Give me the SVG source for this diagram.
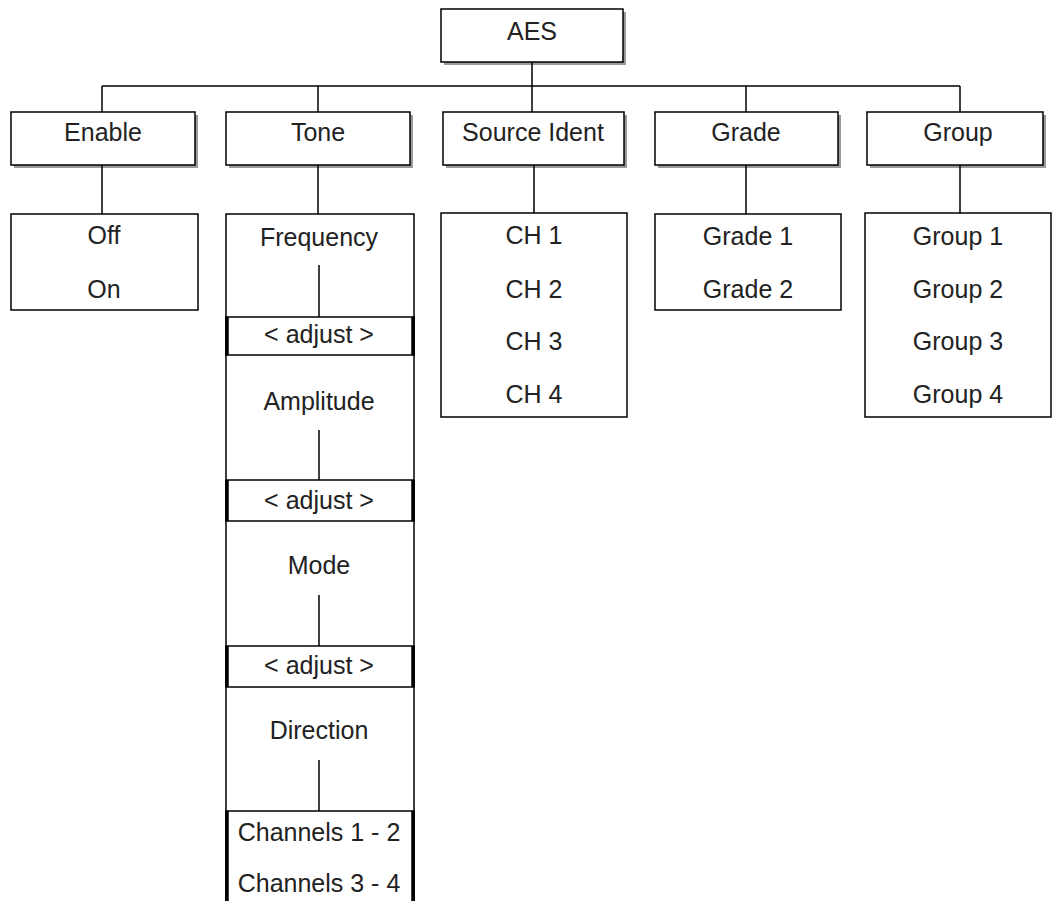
<svg xmlns="http://www.w3.org/2000/svg" width="1052" height="901" viewBox="0 0 1052 901">
<style>
.box{fill:#fff;stroke:#000;stroke-width:1.5}
.sh{fill:#9a9a9a}
.ln{stroke:#000;stroke-width:1.5;fill:none}
.thick{stroke:#000;stroke-width:3.5;fill:none}
text{font-family:"Liberation Sans",Arial,sans-serif;font-size:25px;fill:#222;text-anchor:middle}
</style>
<rect width="1052" height="901" fill="#fff"/>
<g id="AES"><rect class="sh" x="444" y="12" width="182" height="53"/><rect class="box" x="441" y="9" width="182" height="53"/><text x="532" y="40">AES</text></g>
<g id="Enable"><rect class="sh" x="14" y="115" width="184" height="53"/><rect class="box" x="11" y="112" width="184" height="53"/><text x="103" y="141">Enable</text></g>
<g id="Tone"><rect class="sh" x="229" y="115" width="184" height="53"/><rect class="box" x="226" y="112" width="184" height="53"/><text x="318" y="141">Tone</text></g>
<g id="SourceIdent"><rect class="sh" x="446" y="115" width="181" height="53"/><rect class="box" x="443" y="112" width="181" height="53"/><text x="533" y="141">Source Ident</text></g>
<g id="Grade"><rect class="sh" x="658" y="115" width="183" height="53"/><rect class="box" x="655" y="112" width="183" height="53"/><text x="746" y="141">Grade</text></g>
<g id="Group"><rect class="sh" x="870" y="115" width="176" height="53"/><rect class="box" x="867" y="112" width="176" height="53"/><text x="958" y="141">Group</text></g>
<g id="EnableValues"><rect class="box" x="11" y="214" width="187" height="96"/><text x="104" y="244">Off</text><text x="104" y="298">On</text></g>
<g id="ToneValues">
<rect class="box" x="226" y="214" width="188" height="700"/>
<text x="319" y="246">Frequency</text>
<rect class="box" x="226" y="317" width="188" height="38"/><path class="thick" d="M227 317V355M413 317V355"/><text x="319" y="343">&lt; adjust &gt;</text>
<text x="319" y="410">Amplitude</text>
<rect class="box" x="226" y="480" width="188" height="41"/><path class="thick" d="M227 480V521M413 480V521"/><text x="319" y="509">&lt; adjust &gt;</text>
<text x="319" y="574">Mode</text>
<rect class="box" x="226" y="646" width="188" height="41"/><path class="thick" d="M227 646V687M413 646V687"/><text x="319" y="674">&lt; adjust &gt;</text>
<text x="319" y="739">Direction</text>
<rect class="box" x="226" y="811" width="188" height="110"/><path class="thick" d="M227 811V901M413 811V901"/>
<text x="319" y="841">Channels 1 - 2</text><text x="319" y="892">Channels 3 - 4</text>
</g>
<g id="SourceValues"><rect class="box" x="441" y="213" width="186" height="204"/><text x="534" y="244">CH 1</text><text x="534" y="298">CH 2</text><text x="534" y="350">CH 3</text><text x="534" y="403">CH 4</text></g>
<g id="GradeValues"><rect class="box" x="655" y="214" width="186" height="96"/><text x="748" y="245">Grade 1</text><text x="748" y="298">Grade 2</text></g>
<g id="GroupValues"><rect class="box" x="865" y="213" width="186" height="204"/><text x="958" y="245">Group 1</text><text x="958" y="298">Group 2</text><text x="958" y="350">Group 3</text><text x="958" y="403">Group 4</text></g>
<g id="connectors">
<path class="ln" d="M532 62V86M102 86H960M102 86V112M318 86V112M532 86V112M746 86V112M960 86V112"/>
<path class="ln" d="M102 165V214M318 165V214M534 165V213M746 165V214M960 165V213"/>
<path class="ln" d="M319 265V317M319 430V480M319 595V646M319 760V811"/>
</g>
</svg>
